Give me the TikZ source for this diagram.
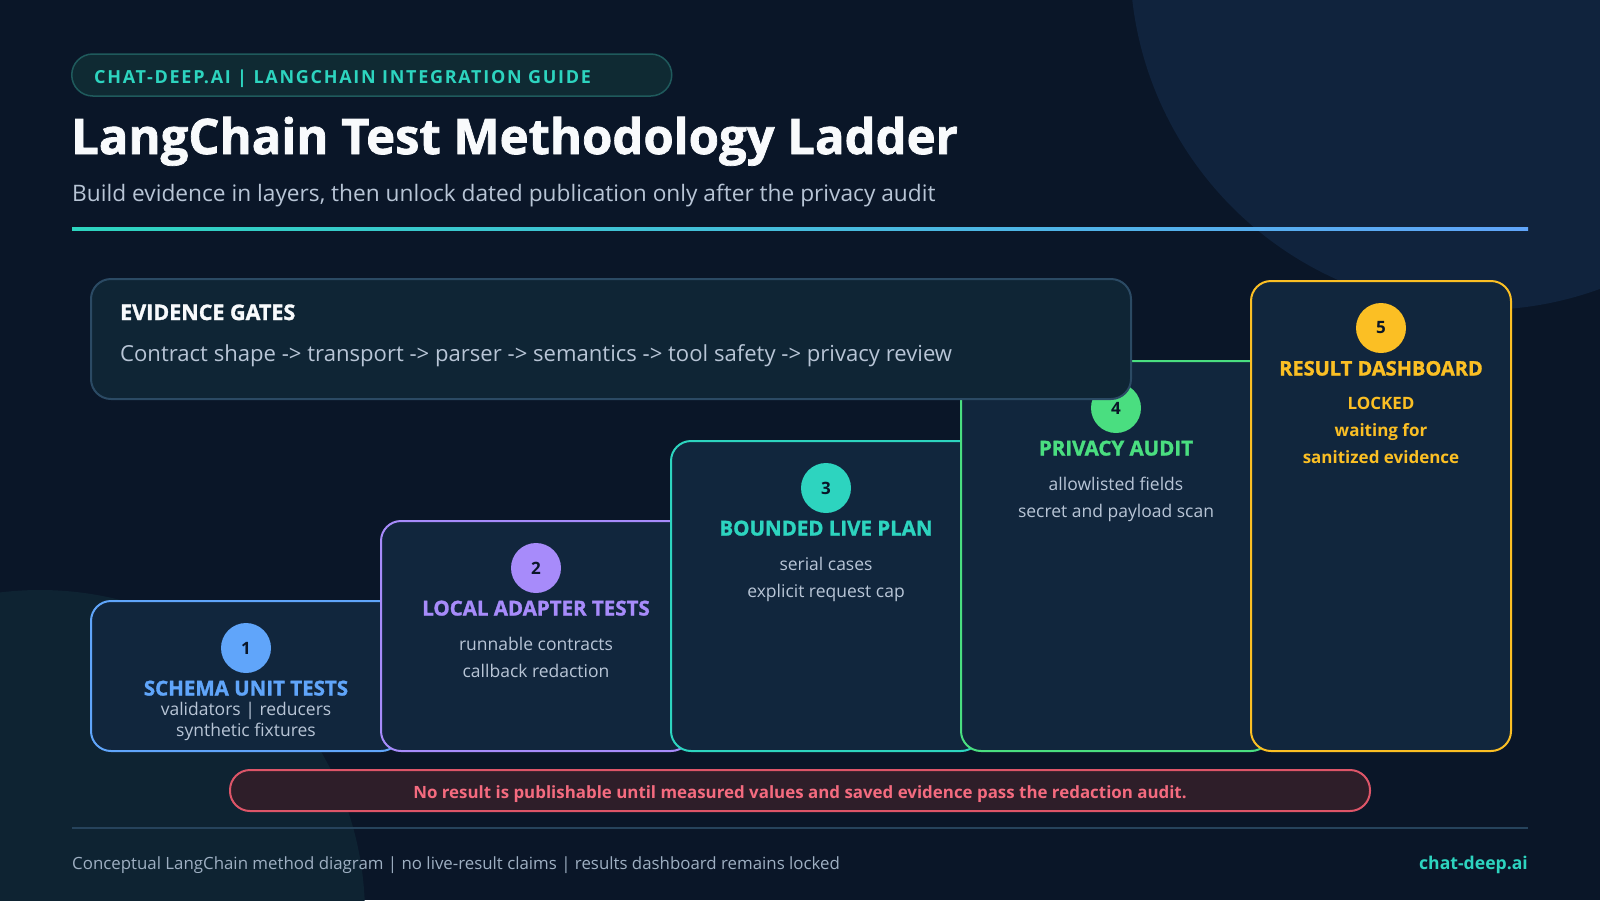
\documentclass[tikz,border=0pt]{standalone}
\usepackage{fontspec}
\setmainfont{Open Sans}
\newfontfamily\heavyfont{Open Sans}[BoldFeatures={FakeBold=1.5}]
\usetikzlibrary{positioning,calc}
\definecolor{bgc}{HTML}{0A1628}
\definecolor{orbc}{HTML}{10233D}
\definecolor{orbtealc}{HTML}{0E2332}
\definecolor{cardc}{HTML}{11263D}
\definecolor{gatec}{HTML}{0F2535}
\definecolor{gateedgec}{HTML}{2B4A64}
\definecolor{bodyc}{HTML}{B8C5D6}
\definecolor{headc}{HTML}{F8FAFC}
\definecolor{bluec}{HTML}{60A5FA}
\definecolor{violetc}{HTML}{A78BFA}
\definecolor{tealc}{HTML}{2DD4BF}
\definecolor{greenc}{HTML}{4ADE80}
\definecolor{amberc}{HTML}{FBBF24}
\definecolor{alertc}{HTML}{F46B7F}
\definecolor{alertedgec}{HTML}{DD5568}
\definecolor{alertfillc}{HTML}{2E1E29}
\definecolor{pillc}{HTML}{0F2A33}
\definecolor{pilledgec}{HTML}{1F5A5C}
\definecolor{rulec}{HTML}{26435C}
\definecolor{footc}{HTML}{9EAFC2}
\tikzset{
  card/.style      = {draw=#1, line width=2pt, fill=cardc, rounded corners=20pt,
                      minimum width=310pt, anchor=north west, inner sep=0pt},
  badge/.style     = {circle, fill=#1, minimum size=50pt, inner sep=0pt, text=bgc,
                      font=\fontsize{17}{17}\selectfont\bfseries},
  steptitle/.style = {text=#1, anchor=base, inner sep=0pt,
                      font=\fontsize{20.5}{20.5}\selectfont\heavyfont\bfseries},
  stepnote/.style  = {text=bodyc, anchor=base, inner sep=0pt, align=center,
                      font=\fontsize{17.5}{27}\selectfont},
  locknote/.style  = {text=amberc, anchor=base, inner sep=0pt, align=center,
                      font=\fontsize{17}{27}\selectfont\bfseries},
}

\begin{document}
\begin{tikzpicture}[x=1pt, y=-1pt]
\useasboundingbox (0,0) rectangle (1600,900);

% backdrop
\fill[bgc] (0,0) rectangle (1600,900);
\begin{scope}
  \clip (0,0) rectangle (1600,900);
  \fill[orbc] (1480,-40) circle (350);
  \fill[orbtealc] (40,915) circle (325);
\end{scope}

% header
\node[draw=pilledgec, line width=1.5pt, fill=pillc, rounded corners=21pt, anchor=west,
      minimum width=600pt, minimum height=42pt] (pill) at (71,75) {};
\node[anchor=base west, inner sep=0pt, text=tealc,
      font=\fontsize{18}{18}\selectfont\bfseries\addfontfeature{LetterSpace=9.5}] (kicker) at (94,83.5)
  {CHAT-DEEP.AI | LANGCHAIN INTEGRATION GUIDE};
\node[anchor=base west, inner sep=0pt, text=headc,
      font=\fontsize{49}{49}\selectfont\heavyfont\bfseries] (title) at (71,154)
  {LangChain Test Methodology Ladder};
\node[anchor=base west, inner sep=0pt, text=bodyc,
      font=\fontsize{22.7}{22.7}\selectfont] (subtitle) at (72,201)
  {Build evidence in layers, then unlock dated publication only after the privacy audit};
\shade[left color=tealc, right color=bluec] (72,227.5) rectangle (1528,230.5);

% the ladder
\node[card=bluec, minimum height=150pt] (c1) at (90,600) {};
\node[badge=bluec] (b1) at ($(c1.north)+(0,48)$) {1};
\node[steptitle=bluec] (t1) at ($(b1)+(0,47.5)$) {SCHEMA UNIT TESTS};
\node[stepnote, font=\fontsize{17.5}{21}\selectfont] (n1) at ($(b1)+(0,88)$)
  {validators | reducers\\synthetic fixtures};

\node[card=violetc, minimum height=230pt] (c2) at (380,520) {};
\node[badge=violetc] (b2) at ($(c2.north)+(0,48)$) {2};
\node[steptitle=violetc] (t2) at ($(b2)+(0,47.5)$) {LOCAL ADAPTER TESTS};
\node[stepnote] (n2) at ($(b2)+(0,109)$) {runnable contracts\\callback redaction};

\node[card=tealc, minimum height=310pt] (c3) at (670,440) {};
\node[badge=tealc] (b3) at ($(c3.north)+(0,48)$) {3};
\node[steptitle=tealc] (t3) at ($(b3)+(0,47.5)$) {BOUNDED LIVE PLAN};
\node[stepnote] (n3) at ($(b3)+(0,109)$) {serial cases\\explicit request cap};

\node[card=greenc, minimum height=390pt] (c4) at (960,360) {};
\node[badge=greenc] (b4) at ($(c4.north)+(0,48)$) {4};
\node[steptitle=greenc] (t4) at ($(b4)+(0,47.5)$) {PRIVACY AUDIT};
\node[stepnote] (n4) at ($(b4)+(0,109)$) {allowlisted fields\\secret and payload scan};

\node[card=amberc, minimum height=470pt, minimum width=260pt] (c5) at (1250,280) {};
\node[badge=amberc] (b5) at ($(c5.north)+(0,48)$) {5};
\node[steptitle=amberc, font=\fontsize{20}{20}\selectfont\heavyfont\bfseries] (t5) at ($(b5)+(0,47.5)$) {RESULT DASHBOARD};
\node[locknote] (n5) at ($(b5)+(0,135.5)$) {LOCKED\\waiting for\\sanitized evidence};

% gates panel sits over the upper steps
\node[draw=gateedgec, line width=2pt, fill=gatec, rounded corners=20pt, anchor=north west,
      minimum width=1040pt, minimum height=120pt, inner sep=0pt] (gates) at (90,278) {};
\node[anchor=base west, inner sep=0pt, text=headc,
      font=\fontsize{21.5}{21.5}\selectfont\heavyfont\bfseries] (gatestitle) at (120,320) {EVIDENCE GATES};
\node[anchor=base west, inner sep=0pt, text=bodyc,
      font=\fontsize{22.1}{22.1}\selectfont] (gatesflow) at (120,361)
  {Contract shape -> transport -> parser -> semantics -> tool safety -> privacy review};

% warning banner
\node[draw=alertedgec, line width=2pt, fill=alertfillc, rounded corners=20pt,
      minimum width=1140pt, minimum height=41pt] (alert) at (800,790.5) {};
\node[anchor=base, inner sep=0pt, text=alertc,
      font=\fontsize{16.9}{16.9}\selectfont\bfseries] (alerttext) at ($(alert.center)+(0,7.5)$)
  {No result is publishable until measured values and saved evidence pass the redaction audit.};

% footer
\draw[rulec, line width=2pt] (72,828) -- (1528,828);
\node[anchor=base west, inner sep=0pt, text=footc,
      font=\fontsize{16.85}{16.85}\selectfont] (footnote) at (72,869)
  {Conceptual LangChain method diagram | no live-result claims | results dashboard remains locked};
\node[anchor=base east, inner sep=0pt, text=tealc,
      font=\fontsize{17.6}{17.6}\selectfont\bfseries] (site) at (1528,869) {chat-deep.ai};

\end{tikzpicture}
\end{document}
